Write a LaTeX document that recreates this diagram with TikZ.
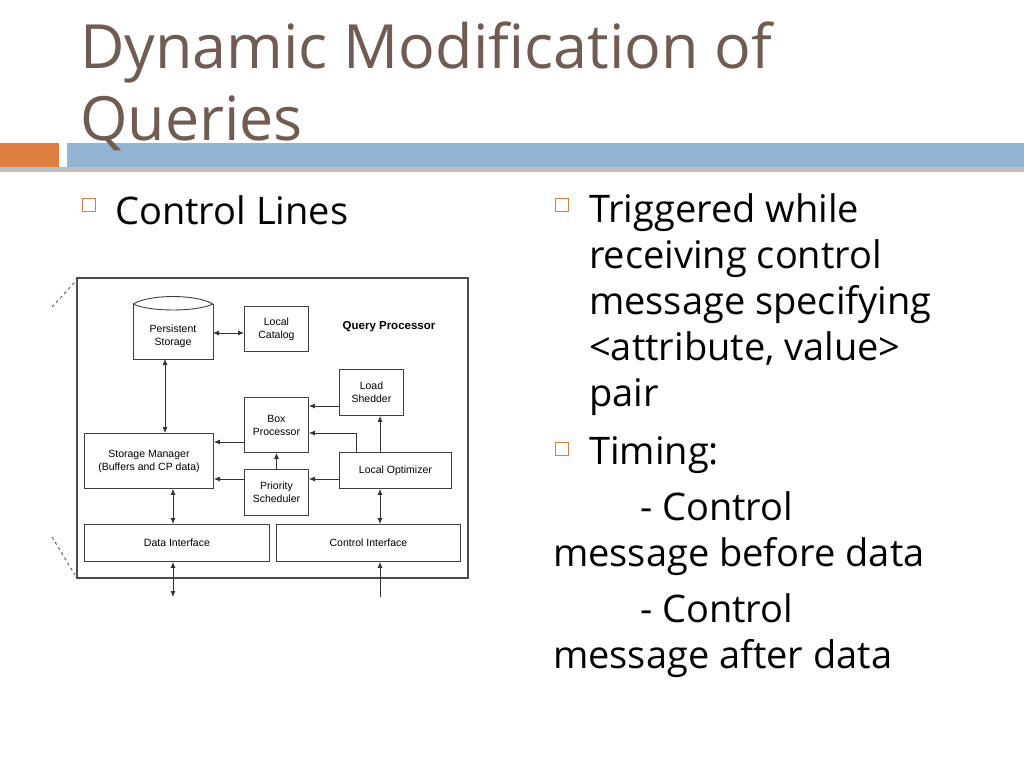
\documentclass[tikz,border=0pt]{standalone}
\usepackage{fontspec}
\setmainfont{Open Sans}
\newfontfamily\diag{Liberation Sans}
\usetikzlibrary{arrows.meta,shapes.geometric}
\definecolor{titlec}{RGB}{112,92,82}
\definecolor{orng}{RGB}{222,126,64}
\definecolor{blu}{RGB}{147,180,210}
\begin{document}
\begin{tikzpicture}[x=1pt,y=-1pt,
  bx/.style={draw=black!75,line width=0.9pt,inner sep=0pt,align=center,font=\diag\fontsize{10.5}{13}\selectfont,anchor=north west},
  ar/.style={-{Latex[length=6pt,width=5pt]},line width=0.8pt,black!80},
  dar/.style={{Latex[length=6pt,width=5pt]}-{Latex[length=6pt,width=5pt]},line width=0.8pt,black!80},
  bul/.style={draw=orng,line width=0.7pt,minimum size=13pt,inner sep=0pt},
  txt/.style={anchor=base west,font=\fontsize{38}{38}\selectfont,inner sep=0pt}]
\useasboundingbox (0,0) rectangle (1024,768);
\fill[white] (0,0) rectangle (1024,768);
% bars
\fill[black!25] (0,167) rectangle (1024,172);
\fill[orng] (0,143) rectangle (59,167);
\fill[blu] (67,143) rectangle (1024,167);
\node[anchor=base west,inner sep=0pt,text=titlec,font=\fontsize{61}{61}\selectfont] (title1) at (80,68) {Dynamic Modification of};
\node[anchor=base west,inner sep=0pt,text=titlec,font=\fontsize{61}{61}\selectfont] (title2) at (80,140) {Queries};
% left bullet
\node[bul] (b1) at (89,205) {};
\node[txt] (t1) at (115,224) {Control Lines};
% right column
\node[bul] (b2) at (562,205) {};
\node[txt] (r1) at (589,222) {Triggered while};
\node[txt] (r2) at (589,268) {receiving control};
\node[txt] (r3) at (589,314) {message specifying};
\node[txt] (r4) at (589,360) {<attribute, value>};
\node[txt] (r5) at (589,406) {pair};
\node[bul] (b3) at (562,449) {};
\node[txt] (t3) at (589,464) {Timing:};
\node[txt] (t4) at (640,520) {- Control};
\node[txt] (t5) at (553,566) {message before data};
\node[txt] (t6) at (640,622) {- Control};
\node[txt] (t7) at (553,668) {message after data};
% diagram
\draw[black!70,line width=1.2pt] (77,278) rectangle (468,578);
\draw[black!60,dashed,line width=1pt] (52,307) -- (75,282);
\draw[black!60,dashed,line width=1pt] (52,537) -- (75,575);
\node[font=\diag\bfseries\fontsize{11.5}{13}\selectfont] (qp) at (389,327) {Query Processor};
% persistent storage cylinder
\draw[black!75,line width=0.9pt] (133,304) -- (133,359) -- (213,359) -- (213,304);
\draw[black!75,line width=0.9pt] (133,304) .. controls (150,294) and (196,294) .. (213,304);
\draw[black!75,line width=0.9pt] (133,304) .. controls (150,312) and (196,312) .. (213,304);
\node[bx,draw=none,anchor=center] (ps) at (173,336) {Persistent\\Storage};
\coordinate (psr) at (213,333);
\coordinate (psb) at (165,359);
\node[bx,minimum width=64pt,minimum height=45pt] (lc) at (244,306) {Local\\Catalog};
\node[bx,minimum width=64pt,minimum height=46pt] (ls) at (339,369) {Load\\Shedder};
\node[bx,minimum width=64pt,minimum height=55pt] (bp) at (244,397) {Box\\Processor};
\node[bx,minimum width=129pt,minimum height=55pt] (sm) at (84,433) {Storage Manager\\(Buffers and CP data)};
\node[bx,minimum width=64pt,minimum height=46pt] (psch) at (244,469) {Priority\\Scheduler};
\node[bx,minimum width=112pt,minimum height=36pt] (lo) at (339,452) {Local Optimizer};
\node[bx,minimum width=185pt,minimum height=37pt] (di) at (84,524) {Data Interface};
\node[bx,minimum width=184pt,minimum height=37pt] (ci) at (276,524) {Control Interface};
\coordinate (dout) at (173,597);
\coordinate (cin) at (380,597);
% arrows
\draw[dar] (psr) -- (lc.west |- psr);
\draw[dar] (psb) -- (sm.north -| psb);
\draw[ar] (bp.west |- 0,442) -- (sm.east |- 0,442);
\draw[ar] (psch.west |- 0,479) -- (sm.east |- 0,479);
\draw[ar] (psch.north) -- (bp.south);
\draw[ar] (ls.west |- 0,406) -- (bp.east |- 0,406);
\draw[ar] (lo.north -| 356,0) -- (356,433) -- (bp.east |- 0,433);
\draw[ar] (lo.north -| 380,0) -- (ls.south -| 380,0);
\draw[ar] (lo.west |- 0,479) -- (psch.east |- 0,479);
\draw[dar] (lo.south -| 380,0) -- (ci.north -| 380,0);
\draw[dar] (sm.south -| 173,0) -- (di.north -| 173,0);
\draw[dar] (di.south -| 173,0) -- (dout);
\draw[ar] (cin) -- (ci.south -| 380,0);
\end{tikzpicture}
\end{document}
